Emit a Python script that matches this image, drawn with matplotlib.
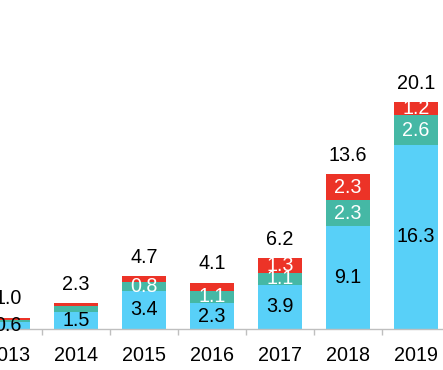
import matplotlib
matplotlib.use("Agg")
import matplotlib.pyplot as plt
import numpy as np

years = ["2013", "2014", "2015", "2016", "2017", "2018", "2019"]
blue_vals = [0.6, 1.5, 3.4, 2.3, 3.9, 9.1, 16.3]
teal_vals = [0.2, 0.5, 0.8, 1.1, 1.1, 2.3, 2.6]
red_vals = [0.2, 0.3, 0.5, 0.7, 1.3, 2.3, 1.2]
totals = [1.0, 2.3, 4.7, 4.1, 6.2, 13.6, 20.1]

blue_c = "#58D0F8"
teal_c = "#45B8A5"
red_c = "#EC3327"

plt.rcParams['font.family'] = ['Liberation Sans', 'DejaVu Sans']

fig = plt.figure(figsize=(4.43, 3.70), dpi=100)
ax = fig.add_axes([0, 41/370, 1, 329/370])

x = np.arange(len(years))
w = 0.66
b = np.array(blue_vals)
t = np.array(teal_vals)
r = np.array(red_vals)
ax.bar(x, b, w, color=blue_c, linewidth=0)
ax.bar(x, t, w, bottom=b, color=teal_c, linewidth=0)
ax.bar(x, r, w, bottom=b + t, color=red_c, linewidth=0)

fs = 14.2
for i in range(len(years)):
    ax.text(x[i], b[i] / 2, f"{blue_vals[i]:.1f}", ha="center", va="center",
            fontsize=fs, color="black")
    if teal_vals[i] >= 0.75:
        ax.text(x[i], b[i] + t[i] / 2, f"{teal_vals[i]:.1f}", ha="center",
                va="center", fontsize=fs, color="white")
    if red_vals[i] >= 0.75:
        ax.text(x[i], b[i] + t[i] + r[i] / 2, f"{red_vals[i]:.1f}", ha="center",
                va="center", fontsize=fs, color="white")
    top = b[i] + t[i] + r[i]
    ax.annotate(f"{totals[i]:.1f}", (x[i], top), xytext=(0, 13.5),
                textcoords="offset points", ha="center", va="center",
                fontsize=fs, color="black")

ax.set_xlim((0 - 8) / 68, (443 - 8) / 68)
ax.set_ylim(0, 329 / 11.3)
ax.set_xticks(x)
ax.set_xticklabels(years, fontsize=fs)
ax.set_xticks(x[:-1] + 0.5, minor=True)
ax.tick_params(axis="x", which="major", length=0, pad=12.5)
ax.tick_params(axis="x", which="minor", length=4, color="#BFBFBF", width=1)
ax.set_yticks([])
for s in ["top", "right", "left"]:
    ax.spines[s].set_visible(False)
ax.spines["bottom"].set_color("#BFBFBF")
ax.spines["bottom"].set_linewidth(1)

fig.savefig("out.png", dpi=100)
